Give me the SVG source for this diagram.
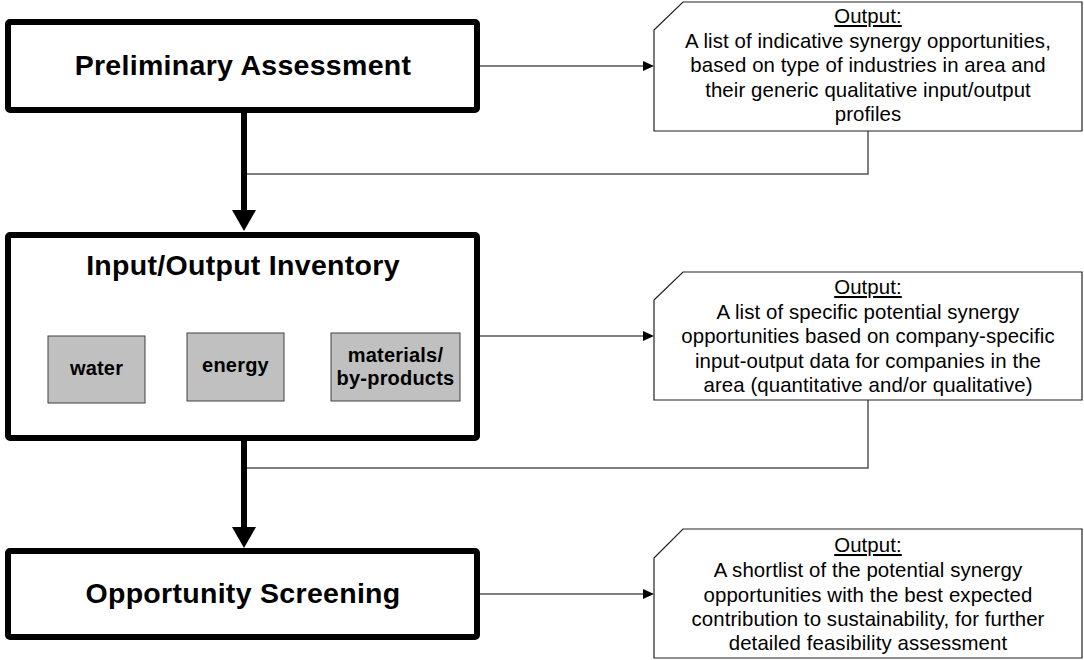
<svg xmlns="http://www.w3.org/2000/svg" width="1084" height="660" viewBox="0 0 1084 660">
<style>
.stage{fill:#fff;stroke:#000;stroke-width:6}
.title{font-family:"Liberation Sans",Arial,sans-serif;font-weight:bold;font-size:28.5px;letter-spacing:0.3px;fill:#000;text-anchor:middle}
.sub{fill:#c0c0c0;stroke:#404040;stroke-width:1}
.subt{font-family:"Liberation Sans",Arial,sans-serif;font-weight:bold;font-size:20px;letter-spacing:0.2px;fill:#000;text-anchor:middle}
.out{fill:#fff;stroke:#222;stroke-width:1.2}
.outt{font-family:"Liberation Sans",Arial,sans-serif;font-size:20.4px;letter-spacing:0.1px;fill:#000;text-anchor:middle}
.u{text-decoration:underline}
.thick{stroke:#000;stroke-width:6;fill:none}
.thin{stroke:#000;stroke-width:1.2;fill:none}
.fb{stroke:#555;stroke-width:1.5;fill:none}
</style>
<defs>
<marker id="bighead" markerUnits="userSpaceOnUse" viewBox="0 0 21 24" refX="0" refY="12" markerWidth="21" markerHeight="24" orient="auto">
<path d="M0,0 L21,12 L0,24 z" fill="#000"/>
</marker>
<marker id="smallhead" markerUnits="userSpaceOnUse" viewBox="0 0 11 10" refX="0" refY="5" markerWidth="11" markerHeight="10" orient="auto">
<path d="M0,0 L11,5 L0,10 z" fill="#000"/>
</marker>
</defs>

<g id="connectors">
<line class="thick" x1="244" y1="113" x2="244" y2="210" marker-end="url(#bighead)"/>
<line class="thick" x1="244" y1="441" x2="244" y2="527" marker-end="url(#bighead)"/>
<line class="thin" x1="480" y1="66" x2="643" y2="66" marker-end="url(#smallhead)"/>
<line class="thin" x1="480" y1="336" x2="643" y2="336" marker-end="url(#smallhead)"/>
<line class="thin" x1="480" y1="594" x2="643" y2="594" marker-end="url(#smallhead)"/>
<polyline class="fb" points="868,131 868,174 247,174"/>
<polyline class="fb" points="868,400 868,468 247,468"/>
</g>

<g id="preliminary-assessment">
<rect class="stage" x="8" y="22" width="469" height="88" rx="2"/>
<text class="title" x="243" y="75">Preliminary Assessment</text>
</g>

<g id="input-output-inventory">
<rect class="stage" x="8" y="235" width="469" height="203" rx="2"/>
<text class="title" x="243" y="275">Input/Output Inventory</text>
</g>

<g id="water">
<rect class="sub" x="48" y="336" width="97" height="67"/>
<text class="subt" x="96.5" y="375">water</text>
</g>

<g id="energy">
<rect class="sub" x="187" y="333" width="97" height="68"/>
<text class="subt" x="235.5" y="372">energy</text>
</g>

<g id="materials">
<rect class="sub" x="331" y="333" width="129" height="68"/>
<text class="subt" x="395.5" y="362">materials/</text>
<text class="subt" x="395.5" y="385">by-products</text>
</g>

<g id="opportunity-screening">
<rect class="stage" x="8" y="551" width="469" height="86" rx="2"/>
<text class="title" x="243" y="603">Opportunity Screening</text>
</g>

<g id="output-1">
<path class="out" d="M654,30 L683,2 L1082,2 L1082,131 L654,131 Z"/>
<text class="outt u" x="868" y="23">Output:</text>
<text class="outt" x="868" y="47.5">A list of indicative synergy opportunities,</text>
<text class="outt" x="868" y="72">based on type of industries in area and</text>
<text class="outt" x="868" y="96.5">their generic qualitative input/output</text>
<text class="outt" x="868" y="121">profiles</text>
</g>

<g id="output-2">
<path class="out" d="M654,300 L683,272 L1082,272 L1082,400 L654,400 Z"/>
<text class="outt u" x="868" y="294">Output:</text>
<text class="outt" x="868" y="319">A list of specific potential synergy</text>
<text class="outt" x="868" y="343">opportunities based on company-specific</text>
<text class="outt" x="868" y="368">input-output data for companies in the</text>
<text class="outt" x="868" y="392">area (quantitative and/or qualitative)</text>
</g>

<g id="output-3">
<path class="out" d="M654,558 L683,529 L1082,529 L1082,658 L654,658 Z"/>
<text class="outt u" x="868" y="552">Output:</text>
<text class="outt" x="868" y="577">A shortlist of the potential synergy</text>
<text class="outt" x="868" y="602">opportunities with the best expected</text>
<text class="outt" x="868" y="626">contribution to sustainability, for further</text>
<text class="outt" x="868" y="650">detailed feasibility assessment</text>
</g>
</svg>
